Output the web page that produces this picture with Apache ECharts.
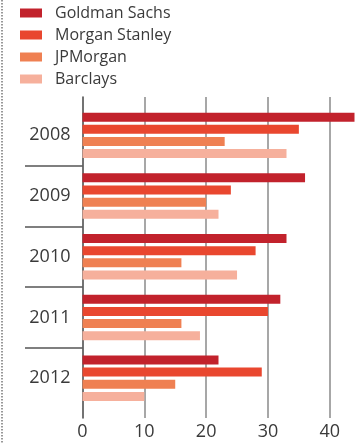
<!DOCTYPE html>
<html>
<head>
<meta charset="utf-8">
<script src="https://cdn.jsdelivr.net/npm/echarts@6/dist/echarts.min.js"></script>
<style>html,body{margin:0;padding:0;background:#fff}#c{width:356px;height:443px}</style>
</head>
<body>
<div id="c"></div>
<script>
var years = ['2008', '2009', '2010', '2011', '2012'];
var seriesNames = ['Goldman Sachs', 'Morgan Stanley', 'JPMorgan', 'Barclays'];
var goldman = [44, 36, 33, 32, 22];
var morgan = [35, 24, 28, 30, 29];
var jpmorgan = [23, 20, 16, 16, 15];
var barclays = [33, 22, 25, 19, 10];
var colors = ['#c2222c', '#e9472f', '#ef8052', '#f6b09c'];
var xMin = 0, xMax = 44, xInterval = 10;

var values = [goldman, morgan, jpmorgan, barclays];
var font = 'Open Sans';
var chart = echarts.init(document.getElementById('c'), null, {renderer: 'canvas'});
var gridLeft = 82.5, gridRight = 1.5;
var barTop = 105, barHeight = 303.5;
chart.setOption({
  animation: false,
  textStyle: {fontFamily: font},
  legend: {
    orient: 'vertical', left: 20, top: 0, padding: [5, 0, 0, 0],
    itemWidth: 22, itemHeight: 9, itemGap: 6,
    icon: 'rect',
    data: seriesNames,
    textStyle: {fontFamily: font, fontSize: 16, color: '#3a3a3a', padding: [0, 0, 0, 8]}
  },
  graphic: [{
    type: 'line', shape: {x1: 2, y1: 0, x2: 2, y2: 443},
    style: {stroke: '#777', lineWidth: 1.5, lineDash: [1.5, 1.5]}
  }],
  grid: [
    {left: gridLeft, right: gridRight, top: 97, bottom: 25},
    {left: gridLeft, right: gridRight, top: barTop, height: barHeight},
    {left: 25, width: gridLeft - 25, top: barTop, height: barHeight}
  ],
  xAxis: [
    {gridIndex: 0, type: 'value', min: xMin, max: xMax, interval: xInterval,
     axisLine: {show: false}, axisTick: {show: false},
     axisLabel: {fontFamily: font, fontSize: 18, color: '#3a3a3a', margin: 5, showMaxLabel: false},
     splitLine: {show: true, showMaxLine: false, showMinLine: false, lineStyle: {color: '#8a8a8a', width: 1.5}}},
    {gridIndex: 1, type: 'value', min: xMin, max: xMax, show: false},
    {gridIndex: 2, type: 'value', show: false}
  ],
  yAxis: [
    {gridIndex: 0, type: 'value', axisLabel: {show: false}, splitLine: {show: false},
     axisTick: {show: false}, axisLine: {show: true, lineStyle: {color: '#444', width: 1.5}}},
    {gridIndex: 1, type: 'category', inverse: true, data: years,
     axisLine: {show: false}, axisTick: {show: false}, splitLine: {show: false},
     axisLabel: {fontFamily: font, fontSize: 18, color: '#3a3a3a', margin: 12}},
    {gridIndex: 2, type: 'category', inverse: true, data: years,
     axisLine: {show: false}, axisTick: {show: false}, axisLabel: {show: false},
     splitLine: {show: true, showMinLine: false, showMaxLine: false, lineStyle: {color: '#555', width: 1.5}}}
  ],
  series: seriesNames.map(function (n, i) {
    return {
      name: n, type: 'bar', xAxisIndex: 1, yAxisIndex: 1,
      data: values[i], barWidth: 9, barGap: '35%',
      itemStyle: {color: colors[i]}
    };
  })
});
</script>
</body>
</html>
